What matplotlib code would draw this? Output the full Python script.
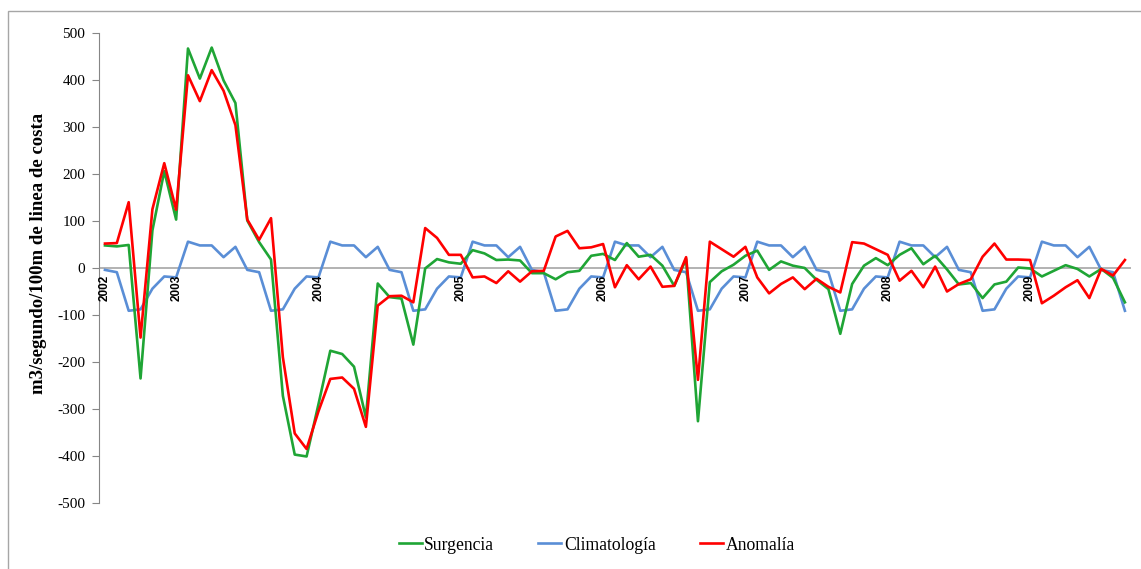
import numpy as np
import pandas as pd
import matplotlib
matplotlib.use("Agg")
import matplotlib.pyplot as plt
from matplotlib.patches import Rectangle

plt.rcParams["axes.unicode_minus"] = False

# monthly series, Jul 2002 - Sep 2009
meses = pd.period_range("2002-07", "2009-09", freq="M")

surgencia = [
    48, 46, 49, -235, 80, 206, 103, 467, 403, 469, 399, 351,
    101, 55, 18, -272, -397, -401, -290, -176, -183, -210, -318, -33,
    -62, -65, -163, -1, 19, 12, 9, 38, 31, 17, 18, 16,
    -11, -11, -24, -9, -6, 26, 30, 17, 53, 24, 28, 5,
    -38, 19, -326, -30, -7, 7, 26, 37, -4, 14, 5, 0,
    -25, -45, -140, -34, 5, 21, 6, 28, 42, 8, 26, -3,
    -35, -32, -64, -35, -29, 1, -1, -18, -6, 6, -2, -18,
    -2, -21, -73,
]

climatologia = [
    -4, -9, -91, -88, -44, -18, -20, 56, 48, 48, 23, 45,
    -4, -9, -91, -88, -44, -18, -20, 56, 48, 48, 23, 45,
    -4, -9, -91, -88, -44, -18, -20, 56, 48, 48, 23, 45,
    -4, -9, -91, -88, -44, -18, -20, 56, 48, 48, 23, 45,
    -4, -9, -91, -88, -44, -18, -20, 56, 48, 48, 23, 45,
    -4, -9, -91, -88, -44, -18, -20, 56, 48, 48, 23, 45,
    -4, -9, -91, -88, -44, -18, -20, 56, 48, 48, 23, 45,
    -4, -9, -91,
]

anomalia = [
    52, 53, 140, -148, 125, 223, 124, 410, 355, 421, 377, 304,
    103, 60, 106, -190, -352, -385, -305, -236, -233, -257, -338, -80,
    -60, -59, -73, 85, 64, 28, 28, -20, -18, -32, -7, -29,
    -7, -6, 67, 79, 42, 44, 51, -41, 6, -24, 3, -40,
    -38, 23, -238, 56, 40, 24, 45, -20, -54, -34, -20, -45,
    -23, -40, -52, 55, 52, 40, 28, -27, -6, -41, 3, -50,
    -34, -24, 24, 52, 18, 18, 17, -75, -59, -41, -26, -64,
    -2, -16, 17,
]

x = np.arange(len(meses))

fig = plt.figure(figsize=(11.41, 5.69), dpi=100)
ax = fig.add_axes([0.0868, 0.116, 0.9043, 0.826])

ax.axhline(0, color="#A6A6A6", lw=1.2, zorder=1)
ax.plot(x, surgencia, color="#1FA535", lw=1.9, label="Surgencia", zorder=3)
ax.plot(x, climatologia, color="#5A8ED6", lw=1.9, label="Climatología", zorder=2)
ax.plot(x, anomalia, color="#FF0000", lw=1.9, label="Anomalía", zorder=4)

ax.set_xlim(-0.5, len(meses) - 0.5)
ax.set_ylim(-500, 500)
ax.set_yticks(np.arange(-500, 501, 100))
ax.set_xticks([])

for s in ["top", "right", "bottom"]:
    ax.spines[s].set_visible(False)
ax.spines["left"].set_color("#868686")
ax.tick_params(axis="y", direction="out", length=5, color="#868686", pad=5)
for t in ax.get_yticklabels():
    t.set_fontfamily("Liberation Serif")
    t.set_fontsize(11)

# year labels below the zero line
for i, p in enumerate(meses):
    if i == 0 or p.month == 1:
        ax.text(i, -14, str(p.year), rotation=90, ha="center", va="top",
                fontsize=8.5, family="Liberation Sans", fontweight="bold", zorder=5)

ax.set_ylabel("m3/segundo/100m de linea de costa", family="Liberation Serif",
              fontweight="bold", fontsize=13.5)
ax.yaxis.set_label_coords(-0.050, 0.532)

fig.legend(loc="center", bbox_to_anchor=(0.523, 0.042), ncol=3, frameon=False,
           prop={"family": "Liberation Serif", "size": 12.7},
           handlelength=1.3, handletextpad=0.15, columnspacing=2.5)

fig.patches.append(Rectangle((0.0072, -0.05), 1.1, 1.0307, transform=fig.transFigure,
                             fill=False, edgecolor="#A6A6A6", lw=1.0))

fig.savefig("out.png", dpi=100)
